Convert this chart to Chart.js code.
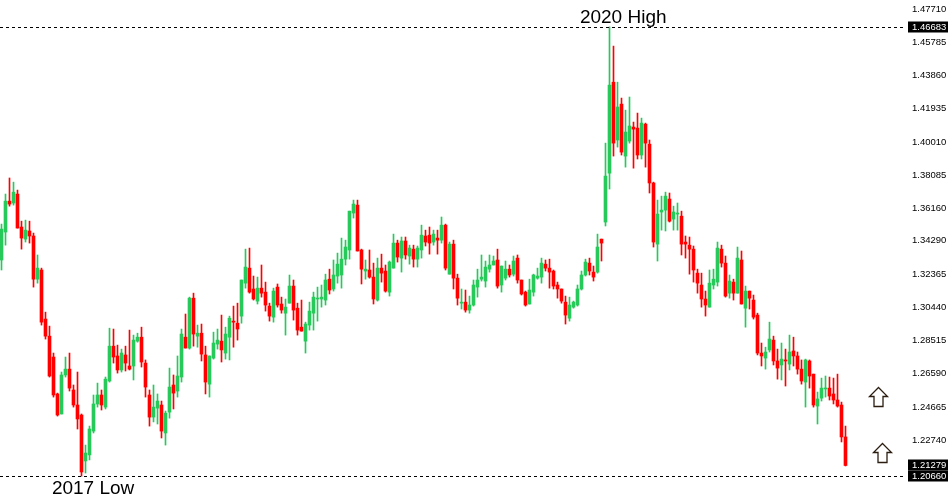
<!DOCTYPE html>
<html>
<head>
<meta charset="utf-8">
<script src="https://cdn.jsdelivr.net/npm/chart.js@4/dist/chart.umd.min.js"></script>
<style>
  html, body { margin: 0; padding: 0; background: #fff; }
  canvas { display: block; }
</style>
</head>
<body>
<canvas id="candles" width="949" height="496"></canvas>
<script>
// daily candles, oldest first
var opens = [
  1.3318,1.3480,1.3659,1.3648,1.3700,1.3509,1.3439,1.3486,1.3457,1.3207,
  1.3260,1.2976,1.2877,1.2756,1.2542,1.2426,1.2652,1.2686,1.2565,1.2478,
  1.2420,1.2154,1.2189,1.2327,1.2484,1.2536,1.2466,1.2617,1.2819,1.2762,
  1.2681,1.2768,1.2704,1.2704,1.2848,1.2871,1.2721,1.2536,1.2408,1.2460,
  1.2478,1.2316,1.2437,1.2594,1.2559,1.2640,1.2871,1.2808,1.3097,1.2877,
  1.2894,1.2768,1.2599,1.2750,1.2831,1.2848,1.2779,1.2871,1.2964,1.2952,
  1.2993,1.3184,1.3271,1.3150,1.3080,1.3155,1.3132,1.3051,1.2987,1.3161,
  1.3063,1.3010,1.3068,1.3167,1.3039,1.2929,1.2848,1.2941,1.3010,1.3092,
  1.3092,1.3086,1.3207,1.3150,1.3225,1.3231,1.3323,1.3376,1.3590,1.3636,
  1.3376,1.3254,1.3260,1.3219,1.3086,1.3271,1.3254,1.3132,1.3271,1.3416,
  1.3329,1.3428,1.3341,1.3381,1.3323,1.3376,1.3457,1.3462,1.3422,1.3445,
  1.3433,1.3520,1.3236,1.3410,1.3213,1.3068,1.3074,1.3028,1.3057,1.3161,
  1.3207,1.3196,1.3265,1.3289,1.3318,1.3173,1.3213,1.3265,1.3236,1.3329,
  1.3202,1.3132,1.3063,1.3132,1.3213,1.3219,1.3294,1.3271,1.3254,1.3173,
  1.3150,1.3074,1.2981,1.3045,1.3057,1.3150,1.3231,1.3300,1.3248,1.3248,
  1.3439,1.3538,1.3821,1.4348,1.4013,1.4221,1.3920,1.4007,1.4088,1.4082,
  1.3926,1.4105,1.3989,1.3764,1.3410,1.3596,1.3607,1.3671,1.3555,1.3584,
  1.3572,1.3422,1.3404,1.3381,1.3242,1.3173,1.3092,1.3045,1.3173,1.3190,
  1.3381,1.3300,1.3126,1.3190,1.3126,1.3318,1.3039,1.3138,1.3086,1.2999,
  1.2779,1.2750,1.2797,1.2854,1.2733,1.2710,1.2739,1.2715,1.2791,1.2762,
  1.2686,1.2611,1.2733,1.2657,1.2472,1.2518,1.2571,1.2576,1.2542,1.2507,
  1.2478,1.2293
];
var highs = [
  1.3526,1.3700,1.3793,1.3769,1.3723,1.3543,1.3549,1.3543,1.3474,1.3347,
  1.3271,1.3016,1.2935,1.2779,1.2547,1.2669,1.2756,1.2779,1.2594,1.2669,
  1.2426,1.2246,1.2356,1.2536,1.2605,1.2565,1.2640,1.2923,1.2918,1.2825,
  1.2802,1.2819,1.2912,1.2883,1.2894,1.2929,1.2739,1.2565,1.2594,1.2542,
  1.2501,1.2443,1.2692,1.2652,1.2762,1.2918,1.3005,1.3103,1.3126,1.2941,
  1.2947,1.2819,1.2762,1.2900,1.2918,1.2999,1.2929,1.2993,1.3051,1.3068,
  1.3202,1.3381,1.3387,1.3225,1.3219,1.3289,1.3190,1.3068,1.3155,1.3179,
  1.3103,1.3092,1.3231,1.3202,1.3068,1.3086,1.2958,1.3074,1.3132,1.3161,
  1.3173,1.3236,1.3265,1.3318,1.3358,1.3445,1.3433,1.3601,1.3665,1.3665,
  1.3381,1.3318,1.3376,1.3300,1.3329,1.3352,1.3289,1.3312,1.3468,1.3433,
  1.3451,1.3451,1.3404,1.3404,1.3399,1.3520,1.3491,1.3509,1.3491,1.3491,
  1.3567,1.3526,1.3422,1.3433,1.3236,1.3150,1.3144,1.3109,1.3202,1.3265,
  1.3347,1.3312,1.3347,1.3341,1.3381,1.3283,1.3312,1.3289,1.3341,1.3347,
  1.3202,1.3138,1.3207,1.3236,1.3271,1.3329,1.3318,1.3323,1.3260,1.3190,
  1.3150,1.3109,1.3103,1.3080,1.3173,1.3254,1.3323,1.3329,1.3283,1.3468,
  1.3439,1.3995,1.46683,1.4557,1.4348,1.4256,1.4186,1.4262,1.4117,1.4169,
  1.4140,1.4111,1.4013,1.3769,1.3665,1.3688,1.3711,1.3706,1.3630,1.3648,
  1.3601,1.3457,1.3451,1.3399,1.3265,1.3242,1.3138,1.3260,1.3265,1.3422,
  1.3404,1.3341,1.3231,1.3207,1.3393,1.3370,1.3167,1.3138,1.3115,1.3010,
  1.2837,1.2813,1.2958,1.2877,1.2802,1.2837,1.2802,1.2883,1.2871,1.2785,
  1.2739,1.2744,1.2739,1.2657,1.2553,1.2634,1.2646,1.2640,1.2634,1.2657,
  1.2495,1.2356
];
var lows = [
  1.3260,1.3404,1.3630,1.3636,1.3503,1.3381,1.3422,1.3416,1.3161,1.3184,
  1.2941,1.2860,1.2640,1.2524,1.2414,1.2426,1.2640,1.2559,1.2466,1.2339,
  1.2066,1.2084,1.2160,1.2316,1.2466,1.2449,1.2455,1.2611,1.2721,1.2663,
  1.2669,1.2675,1.2681,1.2623,1.2842,1.2698,1.2524,1.2356,1.2380,1.2368,
  1.2287,1.2246,1.2402,1.2455,1.2524,1.2611,1.2808,1.2802,1.2819,1.2813,
  1.2733,1.2542,1.2524,1.2744,1.2802,1.2727,1.2744,1.2739,1.2813,1.2854,
  1.2952,1.3155,1.3126,1.3086,1.3063,1.3103,1.3022,1.2964,1.2958,1.3045,
  1.3010,1.2883,1.3068,1.2970,1.2883,1.2906,1.2779,1.2912,1.2912,1.2964,
  1.3045,1.3057,1.3121,1.3138,1.3184,1.3155,1.3289,1.3323,1.3561,1.3370,
  1.3179,1.3207,1.3213,1.3063,1.3080,1.3190,1.3132,1.3109,1.3271,1.3306,
  1.3248,1.3323,1.3294,1.3277,1.3277,1.3329,1.3399,1.3352,1.3404,1.3352,
  1.3416,1.3260,1.3236,1.3150,1.3057,1.3034,1.3016,1.3010,1.3051,1.3103,
  1.3196,1.3161,1.3248,1.3289,1.3155,1.3132,1.3202,1.3219,1.3225,1.3184,
  1.3115,1.3051,1.3063,1.3109,1.3207,1.3184,1.3254,1.3155,1.3150,1.3097,
  1.3068,1.2947,1.2964,1.3039,1.3051,1.3144,1.3225,1.3231,1.3196,1.3242,
  1.3312,1.3515,1.3729,1.3920,1.3972,1.3926,1.3856,1.3995,1.3850,1.3903,
  1.3903,1.3856,1.3706,1.3393,1.3312,1.3491,1.3486,1.3538,1.3491,1.3491,
  1.3347,1.3329,1.3236,1.3190,1.3126,1.3045,1.2993,1.3045,1.3150,1.3167,
  1.3277,1.3103,1.3097,1.3086,1.3126,1.3063,1.2929,1.3034,1.2976,1.2768,
  1.2704,1.2686,1.2785,1.2710,1.2628,1.2623,1.2588,1.2681,1.2704,1.2657,
  1.2599,1.2466,1.2576,1.2466,1.2368,1.2501,1.2524,1.2507,1.2484,1.2466,
  1.2264,1.2125
];
var closes = [
  1.3497,1.3659,1.3642,1.3711,1.3503,1.3445,1.3491,1.3457,1.3207,1.3271,
  1.2958,1.2877,1.2646,1.2536,1.2420,1.2652,1.2686,1.2576,1.2478,1.2397,
  1.2090,1.2200,1.2339,1.2484,1.2536,1.2478,1.2628,1.2819,1.2756,1.2681,
  1.2779,1.2721,1.2686,1.2854,1.2871,1.2727,1.2582,1.2408,1.2466,1.2501,
  1.2327,1.2431,1.2582,1.2547,1.2646,1.2889,1.2808,1.3097,1.2889,1.2894,
  1.2773,1.2611,1.2762,1.2837,1.2854,1.2797,1.2889,1.2981,1.2958,1.2918,
  1.3202,1.3277,1.3132,1.3092,1.3155,1.3126,1.3057,1.2993,1.3138,1.3057,
  1.3028,1.3045,1.3167,1.3028,1.2912,1.2906,1.2947,1.3022,1.3103,1.3097,
  1.3103,1.3202,1.3144,1.3231,1.3294,1.3323,1.3393,1.3601,1.3642,1.3370,
  1.3265,1.3265,1.3219,1.3092,1.3271,1.3242,1.3138,1.3306,1.3416,1.3335,
  1.3428,1.3347,1.3387,1.3323,1.3387,1.3462,1.3422,1.3416,1.3468,1.3433,
  1.3520,1.3271,1.3410,1.3213,1.3097,1.3074,1.3028,1.3057,1.3173,1.3202,
  1.3219,1.3277,1.3289,1.3312,1.3167,1.3283,1.3265,1.3231,1.3312,1.3202,
  1.3121,1.3057,1.3144,1.3231,1.3225,1.3300,1.3271,1.3248,1.3167,1.3150,
  1.3080,1.2999,1.3057,1.3074,1.3150,1.3231,1.3306,1.3254,1.3219,1.3393,
  1.3416,1.3804,1.4331,1.3995,1.4204,1.3943,1.4059,1.4094,1.4076,1.3926,
  1.4111,1.3995,1.3764,1.3422,1.3584,1.3607,1.3688,1.3543,1.3596,1.3590,
  1.3410,1.3410,1.3381,1.3260,1.3184,1.3092,1.3057,1.3184,1.3207,1.3387,
  1.3300,1.3109,1.3196,1.3126,1.3329,1.3063,1.3138,1.3097,1.2987,1.2779,
  1.2762,1.2785,1.2860,1.2733,1.2692,1.2744,1.2733,1.2785,1.2762,1.2686,
  1.2617,1.2739,1.2646,1.2478,1.2513,1.2576,1.2576,1.2530,1.2507,1.2472,
  1.2293,1.21279
];

var priceTicks = [1.47710, 1.45785, 1.43860, 1.41935, 1.40010, 1.38085, 1.36160,
                  1.34290, 1.32365, 1.30440, 1.28515, 1.26590, 1.24665, 1.22740];
var levelLines = [1.46683, 1.20660];          // dashed high / low lines
var boxedPrices = [1.46683, 1.21279, 1.20660]; // black price tags on the axis
var noteText = ['2020 High', '2017 Low'];
var noteBar = [144.6, 12.6];
var notePrice = [1.4720, 1.1991];
var arrowBar = [219, 220];
var arrowPrice = [1.2582, 1.2257];

var UP = '#26c95a';
var DOWN = '#ff0000';
var SLOTS = 224;

var bodies = [], wicks = [], colors = [];
for (var i = 0; i < opens.length; i++) {
  bodies.push({ x: i, y: [opens[i], closes[i]] });
  wicks.push({ x: i, y: [lows[i], highs[i]] });
  colors.push(closes[i] >= opens[i] ? UP : DOWN);
}

var overlay = {
  id: 'overlay',
  afterDraw: function(chart) {
    var ctx = chart.ctx;
    var xs = chart.scales.x, ys = chart.scales.y;
    var area = chart.chartArea;
    ctx.save();

    // dashed level lines
    ctx.strokeStyle = '#000';
    ctx.lineWidth = 1;
    ctx.setLineDash([3, 3]);
    levelLines.forEach(function(p) {
      var y = Math.round(ys.getPixelForValue(p)) + 0.5;
      ctx.beginPath();
      ctx.moveTo(area.left, y);
      ctx.lineTo(ys.left + 10, y);
      ctx.stroke();
    });
    ctx.setLineDash([]);

    // price tags
    ctx.font = '9.5px "Liberation Sans", Arial, sans-serif';
    ctx.textBaseline = 'middle';
    ctx.textAlign = 'left';
    boxedPrices.forEach(function(p) {
      var y = Math.round(ys.getPixelForValue(p));
      ctx.fillStyle = '#000';
      ctx.fillRect(ys.left + 12, y - 5.5, 40, 11);
      ctx.fillStyle = '#fff';
      ctx.fillText(p.toFixed(5), ys.left + 16, y + 0.5);
    });

    // text labels
    ctx.fillStyle = '#000';
    ctx.font = '19px "Liberation Sans", Arial, sans-serif';
    noteText.forEach(function(t, k) {
      ctx.fillText(t, xs.getPixelForValue(noteBar[k]), ys.getPixelForValue(notePrice[k]));
    });

    // hollow up arrows
    ctx.lineWidth = 1.3;
    ctx.strokeStyle = '#2b1d10';
    ctx.fillStyle = '#fff';
    arrowBar.forEach(function(b, k) {
      var cx = Math.round(xs.getPixelForValue(b)) + 0.5;
      var ty = Math.round(ys.getPixelForValue(arrowPrice[k])) + 0.5;
      ctx.beginPath();
      ctx.moveTo(cx, ty);
      ctx.lineTo(cx + 9, ty + 9);
      ctx.lineTo(cx + 4.5, ty + 9);
      ctx.lineTo(cx + 4.5, ty + 19);
      ctx.lineTo(cx - 4.5, ty + 19);
      ctx.lineTo(cx - 4.5, ty + 9);
      ctx.lineTo(cx - 9, ty + 9);
      ctx.closePath();
      ctx.fill();
      ctx.stroke();
    });
    ctx.restore();
  }
};

new Chart(document.getElementById('candles').getContext('2d'), {
  type: 'bar',
  data: {
    datasets: [{
      data: bodies,
      backgroundColor: colors,
      borderWidth: 0,
      barThickness: 3,
      minBarLength: 1,
      grouped: false
    }, {
      data: wicks,
      backgroundColor: colors,
      borderWidth: 0,
      barThickness: 1,
      minBarLength: 1,
      grouped: false
    }]
  },
  options: {
    responsive: false,
    animation: false,
    events: [],
    layout: { padding: 0 },
    plugins: { legend: { display: false }, tooltip: { enabled: false } },
    scales: {
      x: {
        type: 'linear',
        display: false,
        offset: false,
        min: -0.375,
        max: SLOTS - 0.375
      },
      y: {
        position: 'right',
        min: 1.1951,
        max: 1.4824,
        grid: { display: false, drawTicks: false },
        border: { display: false },
        afterBuildTicks: function(scale) {
          scale.ticks = priceTicks.map(function(v) { return { value: v }; });
        },
        afterFit: function(scale) {
          scale.width = 53;
          scale.paddingTop = 0;
          scale.paddingBottom = 0;
        },
        ticks: {
          autoSkip: false,
          padding: 16,
          color: '#000',
          font: { family: '"Liberation Sans", Arial, sans-serif', size: 9.5 },
          callback: function(v) { return Number(v).toFixed(5); }
        }
      }
    }
  },
  plugins: [overlay]
});
</script>
</body>
</html>
